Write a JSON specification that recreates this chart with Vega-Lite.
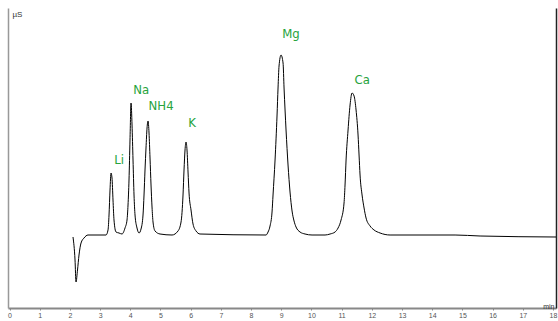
{
  "$schema": "https://vega.github.io/schema/vega-lite/v6.json",
  "width": 548,
  "height": 300,
  "autosize": {"type": "none"},
  "padding": {"left": 8, "top": 8, "right": 2, "bottom": 13},
  "background": "white",
  "config": {"view": {"stroke": null}, "axis": {"grid": false}, "axisX": {"labelOverlap": false, "labelFlush": false}},
  "datasets": {
    "trace": [
      {"t": 2.103, "v": 71}, {"t": 2.170, "v": 48}, {"t": 2.203, "v": 26}, {"t": 2.252, "v": 38},
      {"t": 2.302, "v": 53}, {"t": 2.369, "v": 65}, {"t": 2.468, "v": 70}, {"t": 2.600, "v": 73},
      {"t": 3.196, "v": 73}, {"t": 3.263, "v": 78}, {"t": 3.296, "v": 93}, {"t": 3.329, "v": 118},
      {"t": 3.362, "v": 135}, {"t": 3.395, "v": 130}, {"t": 3.428, "v": 108}, {"t": 3.461, "v": 88},
      {"t": 3.527, "v": 76}, {"t": 3.627, "v": 75}, {"t": 3.726, "v": 74}, {"t": 3.826, "v": 80},
      {"t": 3.892, "v": 88}, {"t": 3.925, "v": 103}, {"t": 3.958, "v": 128}, {"t": 3.991, "v": 168},
      {"t": 4.025, "v": 205}, {"t": 4.058, "v": 183}, {"t": 4.091, "v": 148}, {"t": 4.124, "v": 113},
      {"t": 4.157, "v": 93}, {"t": 4.223, "v": 80}, {"t": 4.290, "v": 75}, {"t": 4.356, "v": 79},
      {"t": 4.422, "v": 93}, {"t": 4.455, "v": 113}, {"t": 4.488, "v": 138}, {"t": 4.521, "v": 160},
      {"t": 4.555, "v": 180}, {"t": 4.588, "v": 187}, {"t": 4.621, "v": 175}, {"t": 4.654, "v": 150},
      {"t": 4.687, "v": 123}, {"t": 4.720, "v": 101}, {"t": 4.753, "v": 86}, {"t": 4.820, "v": 77},
      {"t": 4.985, "v": 74}, {"t": 5.383, "v": 73}, {"t": 5.581, "v": 77}, {"t": 5.681, "v": 86},
      {"t": 5.747, "v": 113}, {"t": 5.780, "v": 138}, {"t": 5.813, "v": 158}, {"t": 5.846, "v": 166},
      {"t": 5.879, "v": 158}, {"t": 5.913, "v": 136}, {"t": 5.946, "v": 115}, {"t": 6.012, "v": 98},
      {"t": 6.078, "v": 84}, {"t": 6.178, "v": 77}, {"t": 6.310, "v": 74}, {"t": 8.496, "v": 73},
      {"t": 8.563, "v": 76}, {"t": 8.629, "v": 82}, {"t": 8.695, "v": 96}, {"t": 8.728, "v": 113},
      {"t": 8.795, "v": 148}, {"t": 8.861, "v": 193}, {"t": 8.894, "v": 220}, {"t": 8.927, "v": 242},
      {"t": 8.993, "v": 253}, {"t": 9.060, "v": 245}, {"t": 9.093, "v": 220}, {"t": 9.126, "v": 198},
      {"t": 9.159, "v": 178}, {"t": 9.225, "v": 143}, {"t": 9.291, "v": 116}, {"t": 9.358, "v": 97},
      {"t": 9.424, "v": 87}, {"t": 9.490, "v": 81}, {"t": 9.622, "v": 76}, {"t": 9.788, "v": 74},
      {"t": 10.020, "v": 73}, {"t": 10.451, "v": 73}, {"t": 10.617, "v": 74}, {"t": 10.782, "v": 76},
      {"t": 10.882, "v": 80}, {"t": 10.981, "v": 88}, {"t": 11.080, "v": 105}, {"t": 11.113, "v": 123},
      {"t": 11.147, "v": 148}, {"t": 11.213, "v": 178}, {"t": 11.279, "v": 203}, {"t": 11.345, "v": 215},
      {"t": 11.412, "v": 212}, {"t": 11.478, "v": 198}, {"t": 11.544, "v": 173}, {"t": 11.577, "v": 153},
      {"t": 11.610, "v": 133}, {"t": 11.677, "v": 113}, {"t": 11.743, "v": 100}, {"t": 11.809, "v": 90},
      {"t": 11.942, "v": 82}, {"t": 12.074, "v": 78}, {"t": 12.273, "v": 75}, {"t": 12.604, "v": 73},
      {"t": 14.757, "v": 73}, {"t": 15.585, "v": 72}, {"t": 18.1, "v": 71}
    ],
    "peaks": [
      {"ion": "Li", "t": 3.63, "v": 148},
      {"ion": "Na", "t": 4.36, "v": 218},
      {"ion": "NH4", "t": 5.02, "v": 202},
      {"ion": "K", "t": 6.05, "v": 185},
      {"ion": "Mg", "t": 9.32, "v": 274},
      {"ion": "Ca", "t": 11.68, "v": 228}
    ]
  },
  "layer": [
    {
      "data": {"name": "trace"},
      "mark": {"type": "line", "color": "black", "strokeWidth": 1, "interpolate": "monotone"},
      "encoding": {
        "x": {
          "field": "t", "type": "quantitative",
          "scale": {"domain": [-0.05, 18.1], "nice": false, "zero": false},
          "axis": {
            "values": [0,1,2,3,4,5,6,7,8,9,10,11,12,13,14,15,16,17,18],
            "labelOverlap": false, "labelFlush": false,
            "labelFontSize": 7, "labelColor": "#555", "labelPadding": 1,
            "ticks": true, "tickSize": 2, "tickColor": "#888",
            "domainColor": "#888", "domainWidth": 2,
            "title": "min", "titleX": 546, "titleY": -6, "titleFontSize": 7,
            "titleFontWeight": "normal", "titleColor": "#333", "titleAlign": "right"
          }
        },
        "y": {
          "field": "v", "type": "quantitative",
          "scale": {"domain": [0, 300], "nice": false, "zero": false},
          "axis": {
            "orient": "left", "labels": false, "ticks": false,
            "domainColor": "#999", "domainWidth": 1.5,
            "title": "µS", "titleAngle": 0, "titleX": 4, "titleY": 6,
            "titleAlign": "left", "titleBaseline": "middle", "titleFontSize": 8,
            "titleFontWeight": "normal", "titleColor": "#333"
          }
        }
      }
    },
    {
      "data": {"name": "peaks"},
      "mark": {"type": "text", "color": "#27a33c", "fontSize": 13, "font": "Liberation Sans Narrow, DejaVu Sans Condensed, sans-serif", "align": "center", "baseline": "middle"},
      "encoding": {
        "x": {
          "field": "t", "type": "quantitative",
          "axis": {
            "values": [0,1,2,3,4,5,6,7,8,9,10,11,12,13,14,15,16,17,18],
            "labelOverlap": false, "labelFlush": false,
            "labelFontSize": 7, "labelColor": "#555", "labelPadding": 1,
            "ticks": true, "tickSize": 2, "tickColor": "#888",
            "domainColor": "#888", "domainWidth": 2,
            "title": "min", "titleX": 546, "titleY": -6, "titleFontSize": 7,
            "titleFontWeight": "normal", "titleColor": "#333", "titleAlign": "right"
          }
        },
        "y": {
          "field": "v", "type": "quantitative",
          "axis": {"orient": "right", "labels": false, "ticks": false, "title": null, "domainColor": "#222", "domainWidth": 1.5}
        },
        "text": {"field": "ion"}
      }
    }
  ],
  "resolve": {"axis": {"y": "independent"}}
}
